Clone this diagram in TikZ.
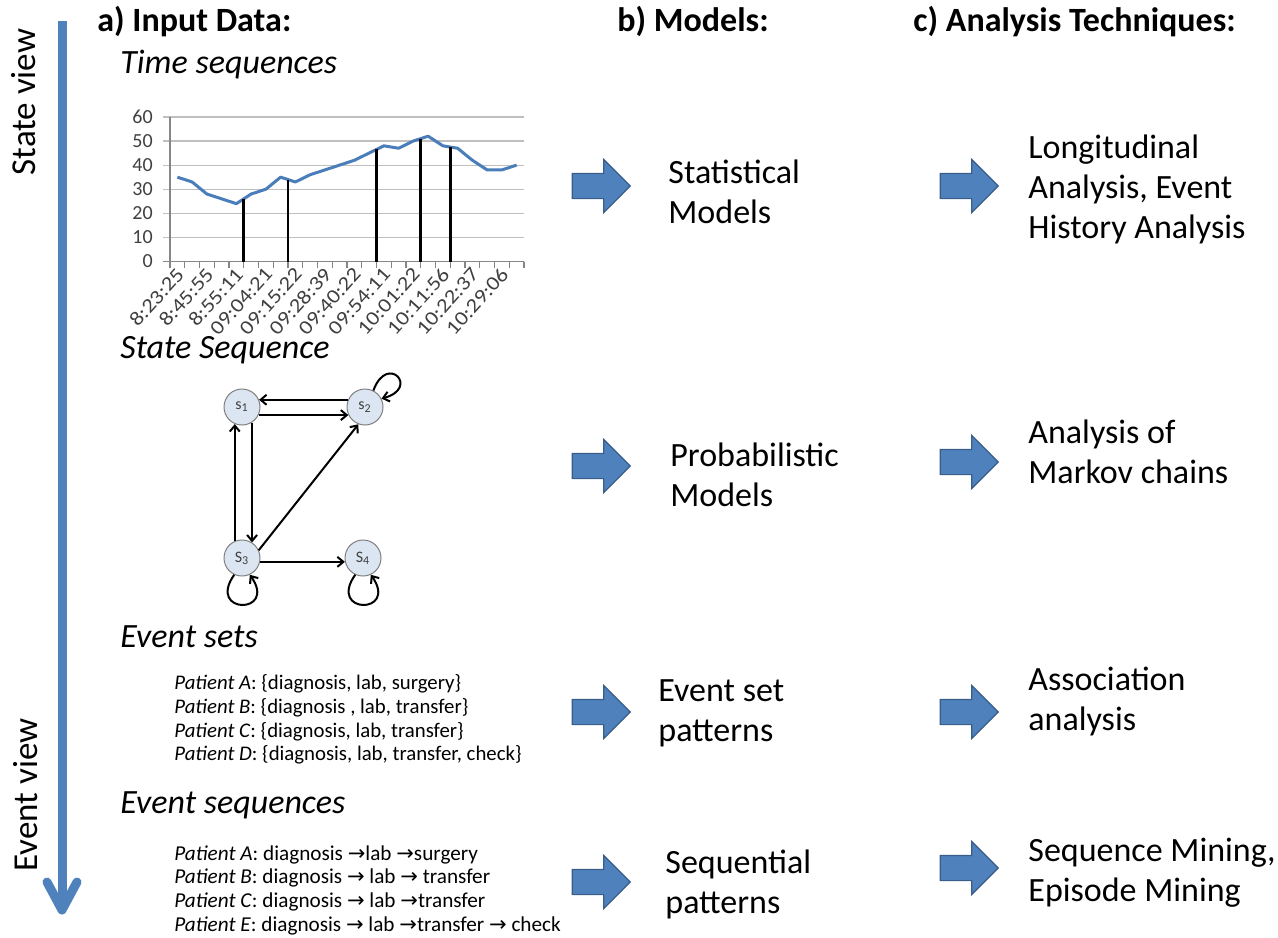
\documentclass[tikz,border=0pt]{standalone}
\usepackage{fontspec}
\setmainfont{Carlito}
\newfontfamily\symfont{DejaVu Sans}
\usetikzlibrary{arrows.meta,shapes.arrows}
\definecolor{ppblue}{HTML}{4F81BD}
\definecolor{arrowedge}{HTML}{385D8A}
\definecolor{chartblue}{HTML}{4A7EBB}
\definecolor{gridgray}{HTML}{BFBFBF}
\definecolor{axisgray}{HTML}{868686}
\definecolor{labelgray}{HTML}{404040}
\definecolor{statefill}{HTML}{DCE6F2}
\definecolor{stategray}{HTML}{7F7F7F}
\newcommand{\ra}{{\symfont\fontsize{10.5}{10}\selectfont →}}
\begin{document}
\begin{tikzpicture}[x=0.5pt,y=0.5pt,
  title/.style={font=\fontsize{17}{20}\selectfont\bfseries,anchor=base west,inner sep=0pt},
  subhead/.style={font=\fontsize{17}{20}\selectfont\itshape,anchor=base west,inner sep=0pt},
  desc/.style={font=\fontsize{17}{20}\selectfont,anchor=west,align=left,inner sep=0pt},
  patients/.style={font=\fontsize{10.4}{11.9}\selectfont,anchor=north west,align=left,inner sep=0pt},
  viewlabel/.style={font=\fontsize{17.5}{20}\selectfont,rotate=90,inner sep=0pt},
  bigarrow/.style={single arrow,draw=arrowedge,fill=ppblue,line width=0.6pt,
    minimum height=29pt,single arrow head extend=7pt,inner xsep=0pt,inner ysep=6pt},
  state/.style={circle,draw=stategray,fill=statefill,line width=0.5pt,minimum size=18pt,
    inner sep=0pt,font=\fontsize{8}{9}\selectfont,text=labelgray},
  trans/.style={line width=1pt,-{Straight Barb[length=3pt,width=5pt]}},
  grid/.style={gridgray,line width=0.6pt},
  axis/.style={axisgray,line width=0.6pt},
  ylab/.style={anchor=east,inner sep=0pt,font=\fontsize{10}{11}\selectfont,text=labelgray},
  xlab/.style={anchor=east,rotate=48,inner sep=0pt,font=\fontsize{10}{11}\selectfont,text=labelgray},
  chartline/.style={chartblue,line width=1.5pt,line join=round},
  bar/.style={black,line width=1.4pt}
]
\useasboundingbox (0,0) rectangle (1278,-937);

% view axis on the left
\coordinate (vtop) at (62,-21);
\coordinate (vbot) at (62,-910);
\coordinate (vwl) at (47,-882);
\coordinate (vwr) at (77,-882);
\draw[ppblue,line width=4.5pt] (vtop) -- (vbot);
\draw[ppblue,line width=4.5pt,line cap=round,line join=round] (vwl) -- (vbot) -- (vwr);
\node[viewlabel] (stateview) at (24,-102) {State view};
\node[viewlabel] (eventview) at (26,-795) {Event view};

% column titles
\node[title] (ta) at (97,-32) {a) Input Data:};
\node[title] (tb) at (617,-32) {b) Models:};
\node[title] (tc) at (913,-32) {c) Analysis Techniques:};

% input data headings
\node[subhead] (h1) at (120,-73) {Time sequences};
\node[subhead] (h2) at (120,-358) {State Sequence};
\node[subhead] (h3) at (120,-647) {Event sets};
\node[subhead] (h4) at (120,-813) {Event sequences};

% time sequence chart
\begin{scope}[shift={(170,-261.5)},x=7.375pt,y=1.205pt]
  \foreach \v in {10,20,...,60} \draw[grid] (-0.47,\v) -- (24,\v);
  \draw[axis] (-0.47,0) -- (24,0);
  \draw[axis] (0,0) -- (0,60);
  \foreach \i in {0,...,24} \draw[axis] (\i,0) -- (\i,-2.5);
  \foreach \v in {0,10,...,60} \node[ylab] at (-1.15,\v) {\v};
  \draw[chartline] plot coordinates {(0.5,35) (1.5,33) (2.5,28) (3.5,26) (4.5,24)
    (5.5,28) (6.5,30) (7.5,35) (8.5,33) (9.5,36) (10.5,38) (11.5,40) (12.5,42)
    (13.5,45) (14.5,48) (15.5,47) (16.5,50) (17.5,52) (18.5,48) (19.5,47)
    (20.5,42) (21.5,38) (22.5,38) (23.5,40)};
  \draw[bar] (5,0) -- (5,26);
  \draw[bar] (8,0) -- (8,34);
  \draw[bar] (14,0) -- (14,46.5);
  \draw[bar] (17,0) -- (17,51);
  \draw[bar] (19,0) -- (19,47.5);
  \foreach \i/\t in {1/8:23:25,3/8:45:55,5/8:55:11,7/09:04:21,9/09:15:22,
      11/09:28:39,13/09:40:22,15/09:54:11,17/10:01:22,19/10:11:56,
      21/10:22:37,23/10:29:06}
    \node[xlab] at ({\i-0.3},-3.8) {\scalebox{1.15}[1]{\t}};
\end{scope}

% state sequence graph
\node[state] (s1) at (242,-407) {s\textsubscript{1}};
\node[state] (s2) at (365,-407) {s\textsubscript{2}};
\node[state] (s3) at (242,-558) {S\textsubscript{3}};
\node[state] (s4) at (363,-558) {S\textsubscript{4}};
\draw[trans] (s2.157) -- (s1.23);
\draw[trans] (s1.-26) -- (s2.206);
\draw[trans] (s3.113) -- (s1.247);
\draw[trans] (s1.-57) -- (s3.57);
\draw[trans] (s3.25) -- (s2.249);
\draw[trans] (s3.-12) -- (s4.192);
\draw[trans] (s2.63) to[out=70,in=15,looseness=9] (s2.27);
\draw[trans] (s3.-115) to[out=-125,in=-55,looseness=8] (s3.-65);
\draw[trans] (s4.-115) to[out=-125,in=-55,looseness=8] (s4.-65);

% event sets
\node[patients] (sets) at (174,-674) {%
  \textit{Patient A}: \{diagnosis, lab, surgery\}\\
  \textit{Patient B}: \{diagnosis , lab, transfer\}\\
  \textit{Patient C}: \{diagnosis, lab, transfer\}\\
  \textit{Patient D}: \{diagnosis, lab, transfer, check\}};

% event sequences
\node[patients,font=\fontsize{10.6}{11.9}\selectfont] (seqs) at (174,-845) {%
  \textit{Patient A}: diagnosis \ra lab \ra surgery\\
  \textit{Patient B}: diagnosis \ra\ lab \ra\ transfer\\
  \textit{Patient C}: diagnosis \ra\ lab \ra transfer\\
  \textit{Patient E}: diagnosis \ra\ lab \ra transfer \ra\ check};

% models column
\node[bigarrow] (ab1) at (595,-186) {};
\node[bigarrow] (ab2) at (595,-466) {};
\node[bigarrow] (ab3) at (595,-712) {};
\node[bigarrow] (ab4) at (595,-882) {};
\node[desc] (m1) at (668,-192) {Statistical\\Models};
\node[desc] (m2) at (670,-475) {Probabilistic\\Models};
\node[desc] (m3) at (658,-713) {Event set\\patterns};
\node[desc] (m4) at (665,-884) {Sequential\\patterns};

% analysis column
\node[bigarrow] (ac1) at (963,-186) {};
\node[bigarrow] (ac2) at (963,-462) {};
\node[bigarrow] (ac3) at (963,-712) {};
\node[bigarrow] (ac4) at (963,-868) {};
\node[desc] (t1) at (1028,-189) {Longitudinal\\Analysis, Event\\History Analysis};
\node[desc] (t2) at (1028,-452) {Analysis of\\Markov chains};
\node[desc] (t3) at (1028,-701) {Association\\analysis};
\node[desc] (t4) at (1028,-873) {Sequence Mining,\\Episode Mining};
\end{tikzpicture}
\end{document}
